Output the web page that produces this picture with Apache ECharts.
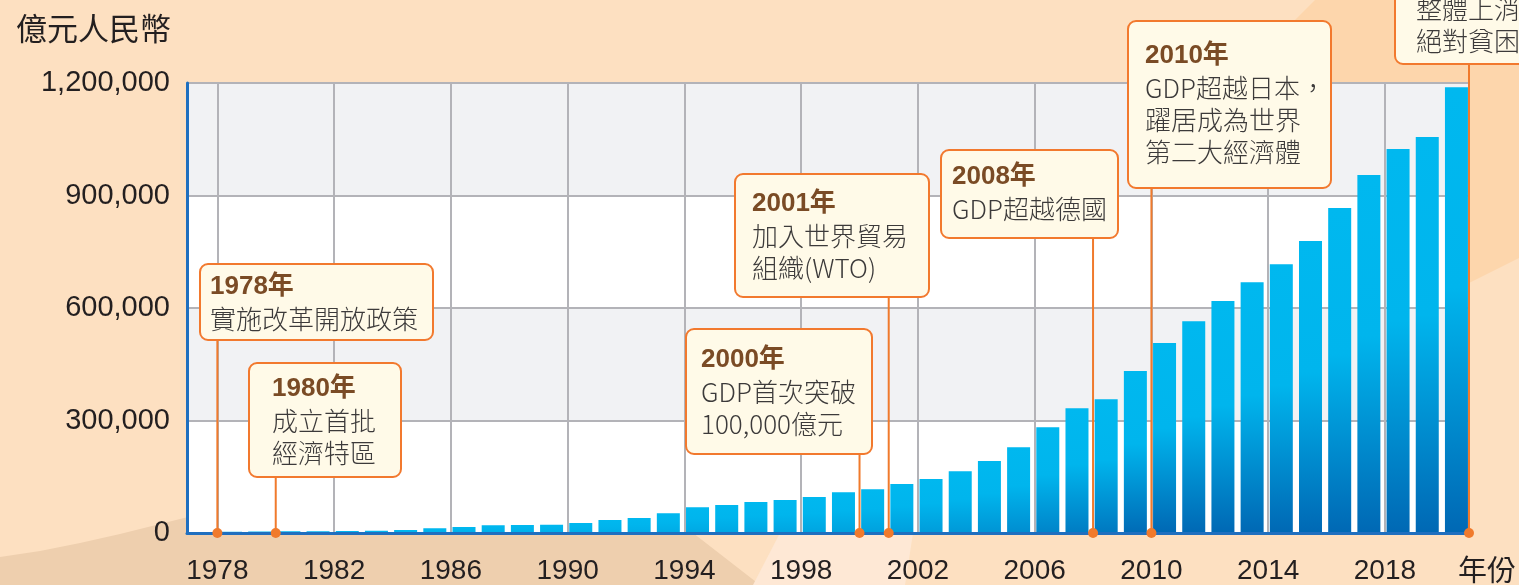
<!DOCTYPE html>
<html>
<head>
<meta charset="utf-8">
<title>GDP</title>
<script src="https://cdn.jsdelivr.net/npm/echarts@6.0.0/dist/echarts.min.js"></script>
<style>
  html, body { margin: 0; padding: 0; background: #fde0c1; }
  #main { width: 1519px; height: 585px; }
</style>
</head>
<body>
<div id="main"></div>
<script>
// 年份與GDP（億元人民幣），由圖上量出
var years = [1978, 1979, 1980, 1981, 1982, 1983, 1984, 1985, 1986, 1987,
  1988, 1989, 1990, 1991, 1992, 1993, 1994, 1995, 1996, 1997,
  1998, 1999, 2000, 2001, 2002, 2003, 2004, 2005, 2006, 2007,
  2008, 2009, 2010, 2011, 2012, 2013, 2014, 2015, 2016, 2017,
  2018, 2019, 2020]
var gdp = [3600, 4000, 4500, 5000, 5400, 6000, 8000, 13000, 16000, 21000,
  21500, 22000, 27000, 34500, 40000, 53000, 69000, 75000, 83000, 88000,
  96000, 109000, 117000, 130500, 144000, 165000, 192000, 229000, 282000, 333000,
  357000, 432000, 507000, 565000, 619000, 669000, 717000, 779000, 867000, 955000,
  1024000, 1056000, 1189000]
var xTicks = [1978, 1982, 1986, 1990, 1994, 1998, 2002, 2006, 2010, 2014, 2018]

// 註記
var noteYears = [1978, 1980, 2000, 2001, 2008, 2010, 2021]
var noteTitles = ['1978年', '1980年', '2000年', '2001年', '2008年', '2010年', '2020年']
var noteTexts = [
  ['實施改革開放政策'],
  ['成立首批', '經濟特區'],
  ['GDP首次突破', '100,000億元'],
  ['加入世界貿易', '組織(WTO)'],
  ['GDP超越德國'],
  ['GDP超越日本，', '躍居成為世界', '第二大經濟體'],
  ['整體上消除', '絕對貧困']
]
// 方框版面：x, y, 寬, 高, 文字左邊, 第一行中心
var noteBoxes = [
  [200, 264, 233, 76, 210, 287],
  [249, 363, 152, 114, 272, 389],
  [686, 329, 186, 125, 701, 360],
  [735, 174, 194, 123, 752, 204],
  [941, 150, 177, 88, 952, 177],
  [1128, 21, 203, 167, 1145, 56],
  [1395, -70, 170, 134, 1416, -23]
]

var xMin = 1976.96, xMax = 2020.88
var numFont = '"Liberation Sans", Arial, sans-serif'
var cjkFont = '"Noto Sans CJK TC", "Noto Sans CJK SC", sans-serif'
var orange = '#f07a2c'

function barColor(params) {
  var t = Math.min(1, params.value[1] / 450000)
  var g = Math.round(180 + (104 - 180) * t)
  var b = Math.round(236 + (180 - 236) * t)
  return new echarts.graphic.LinearGradient(0, 0, 0, 1, [
    { offset: 0, color: '#00b8ef' },
    { offset: 0.45, color: '#00b5ed' },
    { offset: 1, color: 'rgb(0,' + g + ',' + b + ')' }
  ])
}

var bgEls = [
  { type: 'polygon', z: -10, silent: true,
    shape: { points: [[1225, 90], [1315, 0], [1519, 0], [1519, 258], [1469, 283], [1300, 300]] },
    style: { fill: '#fdd6ac' } },
  { type: 'polygon', z: -10, silent: true,
    shape: { points: [[0, 557], [40, 551], [80, 543], [120, 534], [160, 524], [200, 514], [690, 514], [693, 533], [760, 585], [0, 585]] },
    style: { fill: '#eecfae' } },
  { type: 'polygon', z: -10, silent: true,
    shape: { points: [[780, 533], [913, 533], [905, 585], [753, 585]] },
    style: { fill: '#fee8d5' } }
]

var chart = echarts.init(document.getElementById('main'))
chart.setOption({
  backgroundColor: '#fde0c1',
  animation: false,
  title: [
    { text: '億元人民幣', left: 11, top: 8,
      textStyle: { fontFamily: cjkFont, fontSize: 31, fontWeight: 'normal', color: '#231f20' } },
    { text: '年份', left: 1453, top: 550,
      textStyle: { fontFamily: cjkFont, fontSize: 29, fontWeight: 'normal', color: '#231f20' } }
  ],
  grid: { left: 187, right: 50, top: 83, bottom: 52, containLabel: false, outerBoundsMode: 'none' },
  xAxis: {
    type: 'value',
    z: 3,
    min: xMin,
    max: xMax,
    axisLine: { show: true, onZero: false, lineStyle: { color: '#1f6fbf', width: 3 } },
    axisTick: { show: false, customValues: xTicks },
    axisLabel: {
      customValues: xTicks,
      margin: 24,
      fontSize: 28,
      fontFamily: numFont,
      color: '#231f20',
      formatter: function (v) { return String(v) }
    },
    splitLine: { show: true, lineStyle: { color: '#b3b3b8', width: 2 } }
  },
  yAxis: {
    type: 'value',
    min: 0,
    max: 1200000,
    interval: 300000,
    axisLine: { show: true, lineStyle: { color: '#1f6fbf', width: 3 } },
    axisTick: { show: false },
    axisLabel: {
      margin: 17,
      fontSize: 29,
      fontFamily: numFont,
      color: '#231f20',
      formatter: function (v) { return v.toLocaleString('en-US') }
    },
    splitLine: { show: true, lineStyle: { color: '#b3b3b8', width: 2 } },
    splitArea: { show: true, areaStyle: { color: ['#ffffff', '#f1f2f4'] } }
  },
  series: [{
    type: 'bar',
    barWidth: 23,
    itemStyle: { color: barColor },
    data: years.map(function (y, i) { return [y + 0.45, gdp[i]] })
  }]
})

// 畫註記：引線、圓點、方框、文字
var notes = []
var y0 = chart.convertToPixel({ yAxisIndex: 0 }, 0)
var xEnd = chart.convertToPixel({ xAxisIndex: 0 }, xMax)
noteYears.forEach(function (yr, i) {
  var b = noteBoxes[i]
  var x = Math.min(chart.convertToPixel({ xAxisIndex: 0 }, yr), xEnd)
  notes.push({ type: 'line', z: 50, silent: true,
    shape: { x1: x, y1: b[1] + b[3], x2: x, y2: y0 },
    style: { stroke: orange, lineWidth: 2 } })
  notes.push({ type: 'circle', z: 51, silent: true,
    shape: { cx: x, cy: y0, r: 5 },
    style: { fill: orange } })
  notes.push({ type: 'rect', z: 52, silent: true,
    shape: { x: b[0], y: b[1], width: b[2], height: b[3], r: 8 },
    style: { fill: '#fffae8', stroke: '#f2792e', lineWidth: 2 } })
  notes.push({ type: 'text', z: 53, silent: true, x: b[4], y: b[5],
    style: { text: noteTitles[i], fill: '#7a4b25', font: 'bold 26px "Liberation Sans", ' + cjkFont,
      verticalAlign: 'middle', align: 'left' } })
  noteTexts[i].forEach(function (line, j) {
    notes.push({ type: 'text', z: 53, silent: true, x: b[4], y: b[5] + 32 * (j + 1),
      style: { text: line, fill: '#3c3a3a', font: '300 26px ' + cjkFont,
        verticalAlign: 'middle', align: 'left' } })
  })
})
chart.setOption({ graphic: { elements: bgEls.concat(notes) } })
</script>
</body>
</html>
